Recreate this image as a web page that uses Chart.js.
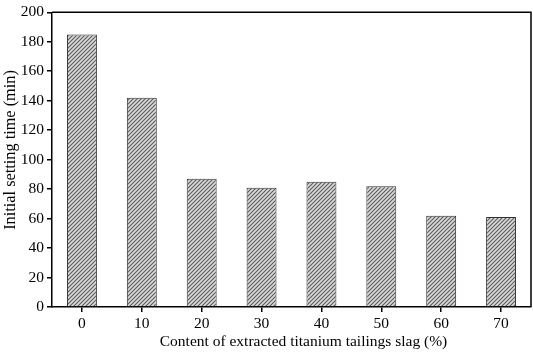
<!DOCTYPE html>
<html><head><meta charset="utf-8">
<script src="https://cdn.jsdelivr.net/npm/chart.js@4"></script>
<style>html,body{margin:0;padding:0;background:#fff}#w{width:533px;height:353px}</style>
</head><body><div id="w"><canvas id="c"></canvas></div>
<script>
const categories = ['0','10','20','30','40','50','60','70'];
const settingTime = [185, 142, 87, 81, 85, 82, 62, 61];
const yTicks = [0,20,40,60,80,100,120,140,160,180,200];
const xTitle = 'Content of extracted titanium tailings slag (%)';
const yTitle = 'Initial setting time (min)';

function hatch(){
  const s = 4, c = document.createElement('canvas');
  c.width = s; c.height = s;
  const g = c.getContext('2d');
  g.fillStyle = '#dadada'; g.fillRect(0,0,s,s);
  g.strokeStyle = '#5a5a5a'; g.lineWidth = 1.1;
  g.beginPath();
  g.moveTo(0,s); g.lineTo(s,0);
  g.moveTo(-1,1); g.lineTo(1,-1);
  g.moveTo(s-1,s+1); g.lineTo(s+1,s-1);
  g.stroke();
  return g.createPattern(c,'repeat');
}
const FAM = '"Liberation Serif", "Times New Roman", serif';
const frame = {id:'frame', afterDraw(ch){
  const a = ch.chartArea, x = ch.ctx;
  x.save(); x.strokeStyle='#000'; x.lineWidth=1.5;
  x.beginPath(); x.moveTo(a.left,a.top); x.lineTo(a.right,a.top); x.lineTo(a.right,a.bottom); x.stroke();
  x.fillStyle='#000'; x.textAlign='center'; x.textBaseline='alphabetic';
  x.font = '15.5px ' + FAM;
  x.fillText(xTitle, (a.left+a.right)/2 + 12, 346);
  x.translate(15, 150); x.rotate(-Math.PI/2);
  x.font = '16.3px ' + FAM;
  x.fillText(yTitle, 0, 0);
  x.restore();
}};
const font = {family:FAM, size:15.5};
new Chart(document.getElementById('c'), {
  type:'bar',
  data:{labels:categories, datasets:[{data:settingTime, backgroundColor:hatch(), borderColor:'#333', borderWidth:1, barPercentage:0.5, categoryPercentage:1}]},
  options:{
    responsive:true, maintainAspectRatio:false, animation:false,
    layout:{padding:{top:8,right:2,left:0,bottom:0}},
    plugins:{legend:{display:false}, tooltip:{enabled:false}},
    scales:{
      x:{
        grid:{display:true, drawOnChartArea:false, drawTicks:true, tickLength:5, color:'#000', lineWidth:1.5, offset:false},
        border:{color:'#000', width:1.5},
        ticks:{color:'#000', font:font, padding:3},
        afterFit(s){ s.height = 46; }
      },
      y:{
        min:0, max:200,
        afterBuildTicks(s){ s.ticks = yTicks.map(v=>({value:v})); },
        grid:{drawOnChartArea:false, drawTicks:true, tickLength:5, color:'#000', lineWidth:1.5},
        border:{color:'#000', width:1.5},
        ticks:{color:'#000', font:font, padding:3},
        afterFit(s){ s.width = 52; }
      }
    }
  },
  plugins:[frame]
});
</script></body></html>
